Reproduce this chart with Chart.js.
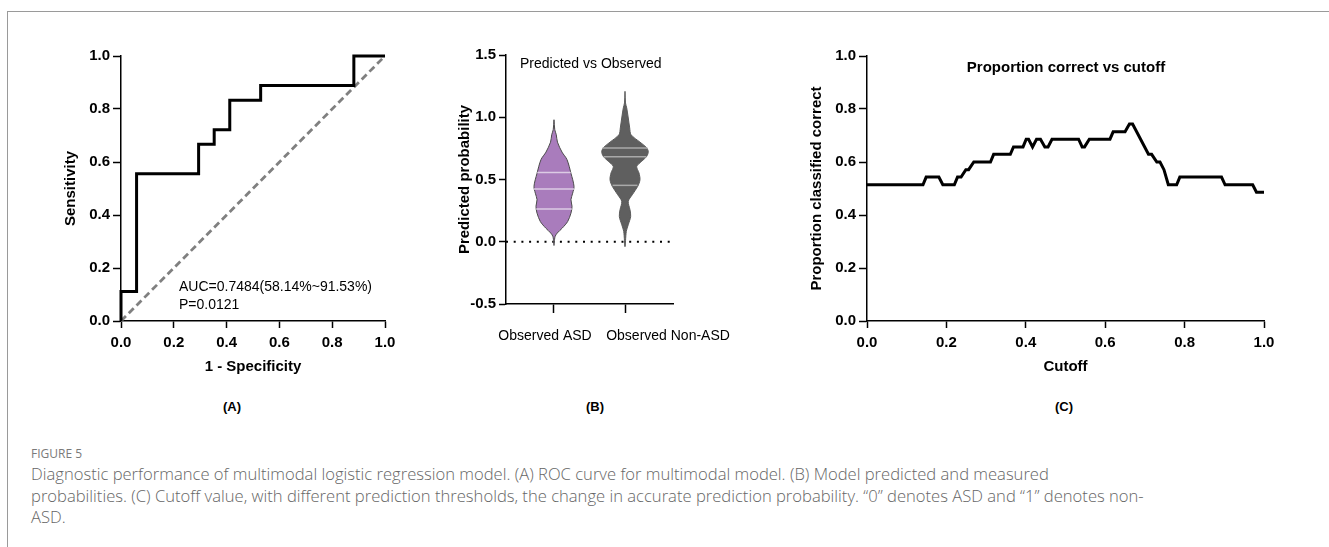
<!DOCTYPE html>
<html>
<head>
<meta charset="utf-8">
<script src="https://cdn.jsdelivr.net/npm/chart.js@4.4.0/dist/chart.umd.min.js"></script>
<style>
  html, body { margin: 0; padding: 0; background: #fff; }
  body { width: 1329px; height: 547px; position: relative; overflow: hidden;
         font-family: "Liberation Sans", Arial, sans-serif; }
  .frameTop { position: absolute; left: 7px; top: 11px; right: 0; border-top: 1.5px solid #9a9a9a; }
  .frameLeft { position: absolute; left: 7px; top: 11px; bottom: 0; border-left: 1.5px solid #9a9a9a; }
  .panel { position: absolute; }
  .txt { position: absolute; white-space: nowrap; color: #000; font-size: 14px; line-height: 1; }
  .center { transform: translate(-50%, -50%); }
  .leftMid { transform: translateY(-50%); }
  .bold { font-weight: bold; }
  .figLabel { position: absolute; left: 31px; top: 445px; font-family: "Open Sans", Lato, sans-serif;
              font-size: 12px; font-weight: 500; color: #7a7a7a; }
  .caption { position: absolute; left: 31px; top: 463px; font-family: "Open Sans", Lato, sans-serif;
             font-size: 16.6px; font-weight: 300; line-height: 21.5px; color: #666; white-space: nowrap; }
</style>
</head>
<body>
<div class="frameTop"></div>
<div class="frameLeft"></div>

<div class="panel" style="left:40px; top:30px;"><canvas id="graphRoc" width="370" height="360"></canvas></div>
<div class="panel" style="left:440px; top:30px;"><canvas id="graphViolin" width="300" height="360"></canvas></div>
<div class="panel" style="left:790px; top:30px;"><canvas id="graphCutoff" width="500" height="360"></canvas></div>

<div class="txt leftMid" style="left:179px; top:286px;">AUC=0.7484(58.14%~91.53%)</div>
<div class="txt leftMid" style="left:179px; top:304px;">P=0.0121</div>
<div class="txt leftMid" style="left:520px; top:63px;">Predicted vs Observed</div>
<div class="txt center bold" style="left:1066px; top:66px; font-size:15px;">Proportion correct vs cutoff</div>

<div class="txt center bold" style="left:232px; top:406px; font-size:13px;">(A)</div>
<div class="txt center bold" style="left:595px; top:406px; font-size:13px;">(B)</div>
<div class="txt center bold" style="left:1064px; top:406px; font-size:13px;">(C)</div>

<div class="figLabel">FIGURE 5</div>
<div class="caption">Diagnostic performance of multimodal logistic regression model. (A) ROC curve for multimodal model. (B) Model predicted and measured<br>probabilities. (C) Cutoff value, with different prediction thresholds, the change in accurate prediction probability. “0” denotes ASD and “1” denotes non-<br>ASD.</div>

<script>
// ROC (A) : coins de la courbe en escalier
const rocFpr = [0, 0, 0.059, 0.059, 0.294, 0.294, 0.353, 0.353, 0.412, 0.412, 0.529, 0.529, 0.882, 0.882, 1.0];
const rocTpr = [0, 0.111, 0.111, 0.556, 0.556, 0.667, 0.667, 0.722, 0.722, 0.833, 0.833, 0.889, 0.889, 1.0, 1.0];
const chanceValues = [0, 1];

// Violons (B) : niveaux de probabilité et demi-largeurs (unités de catégorie)
const violinGroups = ["Observed ASD", "Observed Non-ASD"];
const asdLevels = [0.98, 0.90, 0.86, 0.80, 0.72, 0.66, 0.55, 0.445, 0.39, 0.338, 0.284, 0.23, 0.163, 0.11, 0.07, 0.04, -0.03];
const asdHalfWidth = [0, 0.011, 0.032, 0.049, 0.113, 0.183, 0.239, 0.282, 0.263, 0.239, 0.254, 0.239, 0.193, 0.117, 0.046, 0.014, 0];
const asdQuartiles = [0.557, 0.424, 0.263];
const asdQuartileWidth = [0.235, 0.285, 0.25];
const nonAsdLevels = [1.208, 1.115, 1.075, 0.994, 0.914, 0.86, 0.80, 0.76, 0.726, 0.686, 0.646, 0.605, 0.552, 0.498, 0.445, 0.378, 0.324, 0.257, 0.203, 0.137, 0.083, -0.04];
const nonAsdHalfWidth = [0, 0.007, 0.024, 0.046, 0.066, 0.085, 0.211, 0.296, 0.328, 0.306, 0.235, 0.165, 0.197, 0.211, 0.179, 0.103, 0.046, 0.070, 0.080, 0.046, 0.018, 0];
const nonAsdQuartiles = [0.753, 0.683, 0.453];
const nonAsdQuartileWidth = [0.315, 0.3, 0.175];
const zeroLine = [0, 0];

// Seuil (C)
const cutoffValues = [0, 0.141, 0.149, 0.181, 0.191, 0.220, 0.228, 0.237, 0.249, 0.256, 0.269, 0.311, 0.319, 0.361, 0.369, 0.393, 0.401, 0.407, 0.417, 0.427, 0.437, 0.448, 0.456, 0.466, 0.533, 0.542, 0.548, 0.56, 0.612, 0.62, 0.65, 0.661, 0.669, 0.709, 0.717, 0.73, 0.738, 0.748, 0.759, 0.78, 0.788, 0.893, 0.902, 0.9715, 0.981, 1.0];
const proportionCorrect = [0.514, 0.514, 0.543, 0.543, 0.514, 0.514, 0.543, 0.543, 0.571, 0.571, 0.6, 0.6, 0.629, 0.629, 0.657, 0.657, 0.686, 0.686, 0.657, 0.686, 0.686, 0.657, 0.657, 0.686, 0.686, 0.657, 0.657, 0.686, 0.686, 0.714, 0.714, 0.743, 0.743, 0.629, 0.629, 0.6, 0.6, 0.571, 0.514, 0.514, 0.543, 0.543, 0.514, 0.514, 0.486, 0.486];

Chart.defaults.font.family = '"Liberation Sans", Arial, sans-serif';
Chart.defaults.color = "#000";
Chart.defaults.animation = false;

const FONT_TICK = { size: 15, weight: "bold" };

/**
 * Construit un axe linéaire avec ticks extérieurs et taille de boîte fixe.
 */
function F_axis(O_cfg) {
  const B_horizontal = O_cfg.horizontal;
  return {
    type: "linear",
    position: B_horizontal ? "bottom" : "left",
    weight: O_cfg.weight || 0,
    min: O_cfg.min,
    max: O_cfg.max,
    afterFit: (O_scale) => {
      if (B_horizontal) O_scale.height = O_cfg.box;
      else O_scale.width = O_cfg.box;
    },
    afterBuildTicks: O_cfg.tickValues
      ? (O_scale) => { O_scale.ticks = O_cfg.tickValues.map((v) => ({ value: v })); }
      : undefined,
    border: { display: O_cfg.noBorder ? false : true, color: "#000", width: 1.5 },
    grid: {
      display: O_cfg.noMarks ? false : true,
      drawOnChartArea: false,
      drawTicks: true,
      tickLength: O_cfg.tickLength || 7,
      tickWidth: 1.5,
      tickColor: "#000",
      color: "#000",
    },
    ticks: {
      display: O_cfg.noLabels ? false : true,
      stepSize: O_cfg.step,
      padding: O_cfg.padding,
      color: "#000",
      font: O_cfg.tickFont || FONT_TICK,
      maxRotation: 0,
      autoSkip: false,
      callback: O_cfg.callback || ((v) => Number(v).toFixed(1)),
    },
    title: O_cfg.title
      ? {
          display: true,
          text: O_cfg.title,
          color: "#000",
          font: { size: 15, weight: "bold", lineHeight: 1.2 },
          padding: O_cfg.titlePadding,
        }
      : { display: false },
  };
}

const O_baseOptions = {
  responsive: false,
  plugins: { legend: { display: false }, tooltip: { enabled: false } },
  elements: { point: { radius: 0 } },
};

function F_points(A_x, A_y) {
  return A_x.map((x, i) => ({ x: x, y: A_y[i] }));
}

// (A) courbe ROC
new Chart(document.getElementById("graphRoc").getContext("2d"), {
  type: "scatter",
  data: {
    datasets: [
      {
        data: F_points(rocFpr, rocTpr),
        showLine: true,
        borderColor: "#000",
        borderWidth: 3,
        tension: 0,
        clip: 6,
      },
      {
        data: F_points(chanceValues, chanceValues),
        showLine: true,
        borderColor: "#808080",
        borderWidth: 2.8,
        borderDash: [7, 4],
        clip: 6,
      },
    ],
  },
  options: {
    ...O_baseOptions,
    layout: { padding: { left: 0, right: 25, top: 26, bottom: 0 } },
    scales: {
      x: F_axis({ horizontal: true, min: 0, max: 1, step: 0.2, box: 69, padding: 6, tickLength: 7,
                  title: "1 - Specificity", titlePadding: { top: 0, bottom: 14 } }),
      y: F_axis({ horizontal: false, min: 0, max: 1, step: 0.2, box: 81, padding: 3, tickLength: 8,
                  title: "Sensitivity", titlePadding: { top: 22, bottom: 0 } }),
    },
  },
});

// (B) violons
function F_violin(A_levels, A_halfWidth, N_center) {
  const A_right = A_levels.map((y, i) => ({ x: N_center + A_halfWidth[i], y: y }));
  const A_left = A_levels.map((y, i) => ({ x: N_center - A_halfWidth[i], y: y })).reverse();
  return A_right.concat(A_left.slice(1));
}

function F_quartileSets(A_q, A_w, N_center, S_color) {
  return A_q.map((q, i) => ({
    data: [{ x: N_center - A_w[i], y: q }, { x: N_center + A_w[i], y: q }],
    showLine: true,
    borderColor: S_color,
    borderWidth: 1.5,
    order: 0,
  }));
}

new Chart(document.getElementById("graphViolin").getContext("2d"), {
  type: "scatter",
  data: {
    datasets: [
      ...F_quartileSets(asdQuartiles, asdQuartileWidth, 0, "#dccbe4"),
      ...F_quartileSets(nonAsdQuartiles, nonAsdQuartileWidth, 1, "#a9a9a9"),
      {
        data: F_violin(asdLevels, asdHalfWidth, 0),
        showLine: true,
        fill: "shape",
        backgroundColor: "#a97cbc",
        borderColor: "#4a4a4a",
        borderWidth: 1,
        tension: 0.3,
        order: 1,
      },
      {
        data: F_violin(nonAsdLevels, nonAsdHalfWidth, 1),
        showLine: true,
        fill: "shape",
        backgroundColor: "#5f5f5f",
        borderColor: "#5a5a5a",
        borderWidth: 1,
        tension: 0.3,
        order: 1,
      },
      {
        data: F_points([-0.676, 1.676], zeroLine),
        showLine: true,
        borderColor: "#000",
        borderWidth: 2,
        borderDash: [2, 5.7],
        order: 5,
      },
    ],
  },
  options: {
    ...O_baseOptions,
    layout: { padding: { left: 0, right: 67, top: 25, bottom: 0 } },
    scales: {
      // axe des repères de groupe (traits seulement)
      x: F_axis({ horizontal: true, min: -0.676, max: 1.676, box: 9, padding: 0, tickLength: 9,
                  tickValues: [0, 1], noLabels: true }),
      // étiquettes de groupe, écartées comme dans GraphPad
      xLabels: F_axis({ horizontal: true, weight: 1, min: -0.676, max: 1.676, box: 77, padding: 8,
                        tickValues: [-0.127, 1.606], noBorder: true, noMarks: true,
                        tickFont: { size: 14, weight: "normal" },
                        callback: (v, i) => violinGroups[i] }),
      y: F_axis({ horizontal: false, min: -0.5, max: 1.5, step: 0.5, box: 66, padding: 3, tickLength: 7,
                  title: "Predicted probability", titlePadding: { top: 16, bottom: 0 } }),
    },
  },
});

// (C) proportion correcte selon le seuil
new Chart(document.getElementById("graphCutoff").getContext("2d"), {
  type: "scatter",
  data: {
    datasets: [
      {
        data: F_points(cutoffValues, proportionCorrect),
        showLine: true,
        borderColor: "#000",
        borderWidth: 3,
        tension: 0,
        clip: 6,
      },
    ],
  },
  options: {
    ...O_baseOptions,
    layout: { padding: { left: 0, right: 26, top: 26, bottom: 0 } },
    scales: {
      x: F_axis({ horizontal: true, min: 0, max: 1, step: 0.2, box: 69, padding: 6, tickLength: 7,
                  title: "Cutoff", titlePadding: { top: 0, bottom: 14 } }),
      y: F_axis({ horizontal: false, min: 0, max: 1, step: 0.2, box: 77, padding: 3, tickLength: 8,
                  title: "Proportion classified correct", titlePadding: { top: 18, bottom: 0 } }),
    },
  },
});
</script>
</body>
</html>
